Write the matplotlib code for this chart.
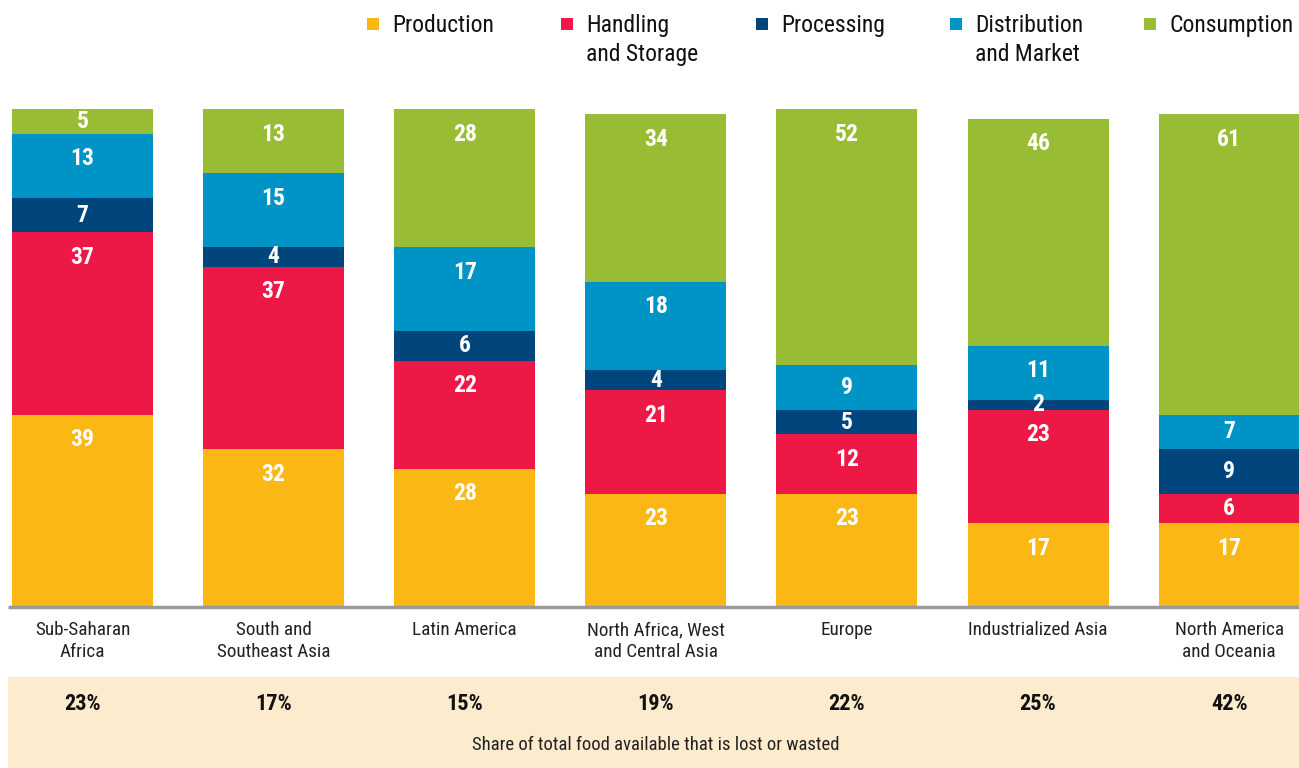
import matplotlib
matplotlib.use("Agg")
import matplotlib.pyplot as plt
from matplotlib.patches import Rectangle
from matplotlib import font_manager

regions = ["Sub-Saharan\nAfrica", "South and\nSoutheast Asia", "Latin America",
           "North Africa, West\nand Central Asia", "Europe", "Industrialized Asia",
           "North America\nand Oceania"]
stages = ["Production", "Handling\nand Storage", "Processing",
          "Distribution\nand Market", "Consumption"]
colors = ["#FBB814", "#EE1847", "#00457C", "#0093C5", "#98BD35"]
production = [39, 32, 28, 23, 23, 17, 17]
handling = [37, 37, 22, 21, 12, 23, 6]
processing = [7, 4, 6, 4, 5, 2, 9]
distribution = [13, 15, 17, 18, 9, 11, 7]
consumption = [5, 13, 28, 34, 52, 46, 61]
share_lost = ["23%", "17%", "15%", "19%", "22%", "25%", "42%"]
subtitle = "Share of total food available that is lost or wasted"
series = [production, handling, processing, distribution, consumption]

names = {f.name for f in font_manager.fontManager.ttflist}
FAM = None
for cand in ["Roboto Condensed", "Liberation Sans Narrow", "Arial Narrow", "Liberation Sans"]:
    if cand in names:
        FAM = cand
        break
if FAM is None:
    FAM = "DejaVu Sans"
plt.rcParams["font.family"] = [FAM, "DejaVu Sans"]

W, H = 1299, 768
fig = plt.figure(figsize=(W / 100, H / 100), dpi=100)
ax = fig.add_axes([0, 0, 1, 1])
ax.set_axis_off()

# pixel mapping
x0px, dxpx = 82.5, 191.1
base_px, ppu = 607, 4.93
ax.set_xlim((0 - x0px) / dxpx, (W - x0px) / dxpx)
ax.set_ylim(-(H - base_px) / ppu, base_px / ppu)

def px_x(p):
    return (p - x0px) / dxpx

def px_y(p):
    return (base_px - p) / ppu

xs = list(range(len(regions)))
width = 141 / dxpx
bottoms = [0] * len(regions)
for vals, col in zip(series, colors):
    ax.bar(xs, vals, width=width, bottom=bottoms, color=col, edgecolor="none", zorder=2)
    for i, v in enumerate(vals):
        top = bottoms[i] + v
        off = min(25 / ppu, v / 2)
        ax.text(xs[i], top - off, str(v), ha="center", va="center", color="white",
                fontsize=17, fontweight="bold", zorder=3)
    bottoms = [b + v for b, v in zip(bottoms, vals)]

# baseline
ax.plot([px_x(8), px_x(W)], [0, 0], color="#9A9A9A", lw=2.5, zorder=4, solid_capstyle="butt")

# beige band
ax.add_patch(Rectangle((px_x(8), px_y(H + 5)), px_x(W + 5) - px_x(8), px_y(677) - px_y(H + 5),
                       facecolor="#FDEBCD", edgecolor="none", zorder=1))

for i, r in enumerate(regions):
    ax.text(xs[i], px_y(621), r, ha="center", va="top", fontsize=13.8,
            color="#222222", linespacing=1.32)
    ax.text(xs[i], px_y(704), share_lost[i], ha="center", va="center", fontsize=16,
            fontweight="bold", color="#111111")
ax.text(px_x(656), px_y(745), subtitle, ha="center", va="center", fontsize=13.5,
        color="#222222")

# legend
leg_x = [373, 567, 762, 956, 1150]
for lx, name, col in zip(leg_x, stages, colors):
    ax.add_patch(Rectangle((px_x(lx - 6), px_y(30)), px_x(lx + 6) - px_x(lx - 6), 12 / ppu,
                           facecolor=col, edgecolor="none", clip_on=False))
    ax.text(px_x(lx + 19), px_y(14), name, ha="left", va="top", fontsize=17,
            color="#111111", linespacing=1.36)

fig.savefig("out.png", dpi=100)
